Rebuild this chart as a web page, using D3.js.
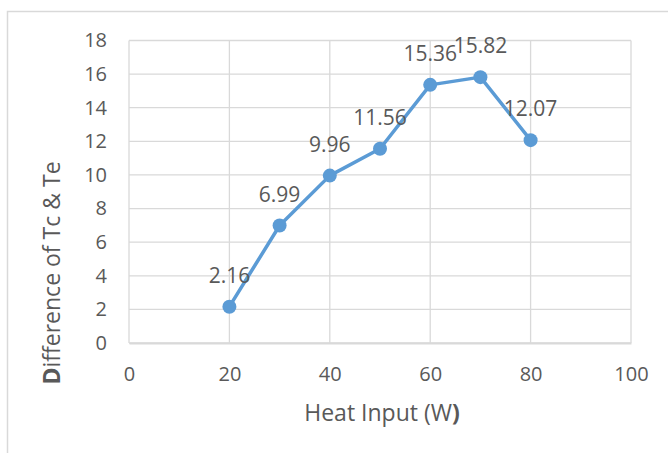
<!DOCTYPE html>
<html>
<head>
<meta charset="utf-8">
<script src="https://cdn.jsdelivr.net/npm/d3@7"></script>
<style>
  html, body { margin: 0; padding: 0; background: #fff; }
  svg { display: block; }
  text { font-family: "Open Sans", "Liberation Sans", sans-serif; fill: #595959; }
</style>
</head>
<body>
<svg id="chart" width="668" height="453"></svg>
<script>
// Heat input (W) and the temperature difference between condenser and evaporator
const heatInput = [20, 30, 40, 50, 60, 70, 80];
const tempDiff = [2.16, 6.99, 9.96, 11.56, 15.36, 15.82, 12.07];
const xTicks = [0, 20, 40, 60, 80, 100];
const yTicks = [0, 2, 4, 6, 8, 10, 12, 14, 16, 18];

const svg = d3.select("#chart");
const grid = "#d9d9d9";
const blue = "#5b9bd5";

// outer chart frame (runs off the right and bottom edges)
svg.append("rect")
  .attr("x", 7.5).attr("y", 11.5)
  .attr("width", 700).attr("height", 500)
  .attr("fill", "none").attr("stroke", grid).attr("stroke-width", 1.5);

const x = d3.scaleLinear().domain([0, 100]).range([129, 631]);
const y = d3.scaleLinear().domain([0, 18]).range([343, 40.5]);

// gridlines
svg.append("g").selectAll("line").data(yTicks).join("line")
  .attr("x1", x(0)).attr("x2", x(100))
  .attr("y1", d => y(d)).attr("y2", d => y(d))
  .attr("stroke", grid).attr("stroke-width", 1.3);
svg.append("g").selectAll("line").data(xTicks).join("line")
  .attr("x1", d => x(d)).attr("x2", d => x(d))
  .attr("y1", y(0)).attr("y2", y(18))
  .attr("stroke", grid).attr("stroke-width", 1.3);

// axes (labels only; gridlines drawn above)
const yAxis = d3.axisLeft(y).tickValues(yTicks).tickSize(0).tickPadding(22);
svg.append("g").attr("transform", `translate(${x(0)},0)`).call(yAxis)
  .call(g => g.select(".domain").remove())
  .selectAll("text").attr("font-size", 20).attr("fill", "#595959")
  .style("font-family", "'Open Sans', sans-serif");

const xAxis = d3.axisBottom(x).tickValues(xTicks).tickSize(0).tickPadding(24);
svg.append("g").attr("transform", `translate(0,${y(0)})`).call(xAxis)
  .call(g => g.select(".domain").attr("stroke", grid).attr("stroke-width", 2))
  .selectAll("text").attr("font-size", 20).attr("fill", "#595959")
  .style("font-family", "'Open Sans', sans-serif");

// axis titles
const xt = svg.append("text")
  .attr("x", 382).attr("y", 421)
  .attr("text-anchor", "middle").attr("font-size", 23);
xt.append("tspan").text("Heat Input (W");
xt.append("tspan").attr("font-weight", "bold").text(")");

const yt = svg.append("text")
  .attr("transform", "translate(60,273) rotate(-90)")
  .attr("text-anchor", "middle").attr("font-size", 23);
yt.append("tspan").attr("font-weight", "bold").text("D");
yt.append("tspan").text("ifference of Tc & Te");

// series line and markers
const pts = heatInput.map((h, i) => ({ h, v: tempDiff[i] }));
svg.append("path").datum(pts)
  .attr("fill", "none").attr("stroke", blue).attr("stroke-width", 3.5)
  .attr("stroke-linejoin", "round")
  .attr("d", d3.line().x(d => x(d.h)).y(d => y(d.v)));

svg.append("g").selectAll("circle").data(pts).join("circle")
  .attr("cx", d => x(d.h)).attr("cy", d => y(d.v)).attr("r", 7)
  .attr("fill", blue);

// data labels
svg.append("g").selectAll("text").data(pts).join("text")
  .attr("x", d => x(d.h)).attr("y", d => y(d.v) - 24)
  .attr("text-anchor", "middle").attr("font-size", 21).attr("fill", "#404040")
  .text(d => d.v.toFixed(2));
</script>
</body>
</html>
